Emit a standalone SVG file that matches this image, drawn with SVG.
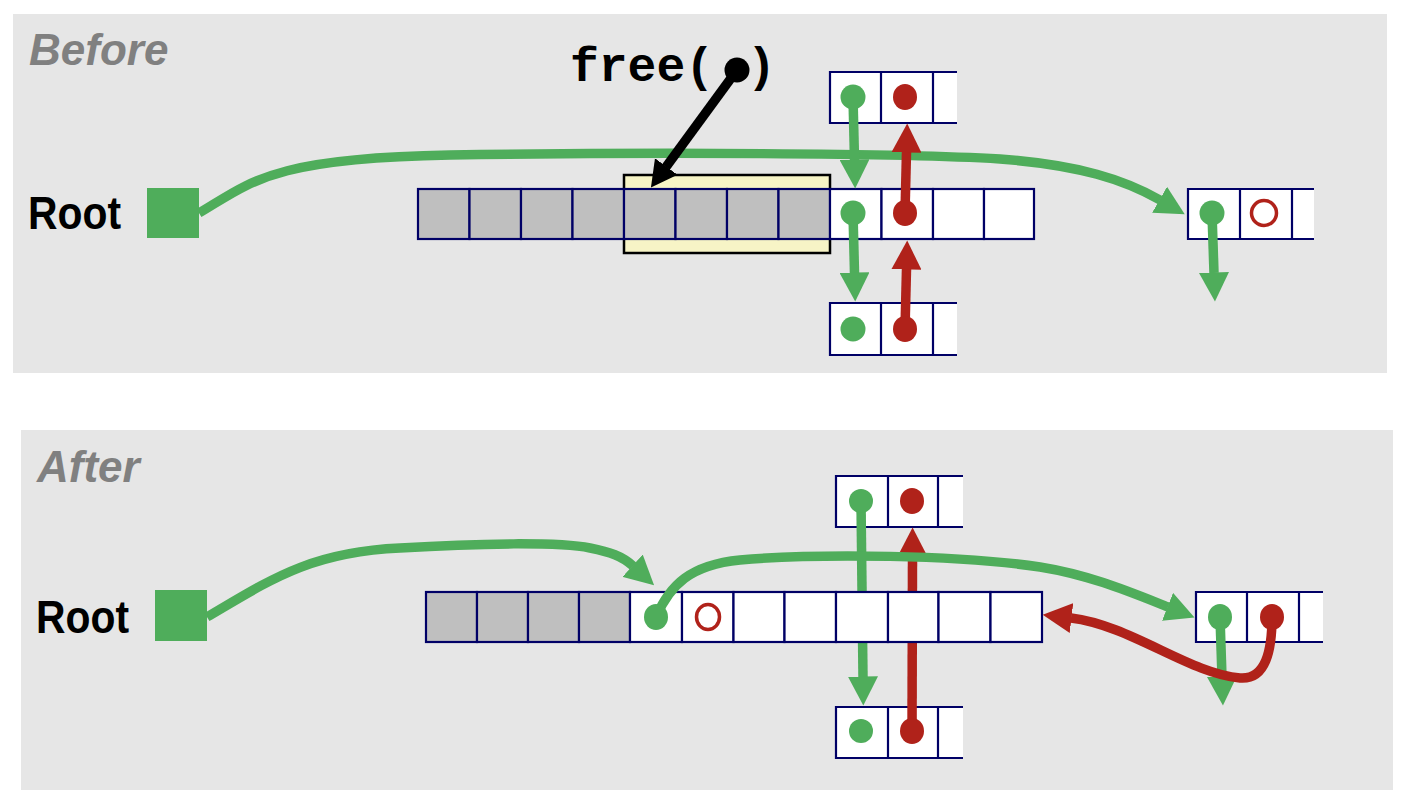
<svg xmlns="http://www.w3.org/2000/svg" width="1406" height="804" viewBox="0 0 1406 804">
<defs>
<style>
.panel{fill:#e6e6e6}
.title{font-family:"Liberation Sans",Arial,sans-serif;font-weight:bold;font-style:italic;font-size:44px;fill:#808080}
.root{font-family:"Liberation Sans",Arial,sans-serif;font-weight:bold;font-size:47px;fill:#000}
.code{font-family:"Liberation Mono","Courier New",monospace;font-weight:bold;font-size:48px;fill:#000}
.rootsq{fill:#4fad5b}
.cell{stroke:#000066;stroke-width:2.2}
.gray{fill:#bfbfbf}
.white{fill:#ffffff}
.yellow{fill:#f7f4c6;stroke:#000;stroke-width:2.5}
.gdot{fill:#4fad5b}
.rdot{fill:#b0221a}
.rring{fill:none;stroke:#b0221a;stroke-width:3.5}
.g{fill:none;stroke:#4fad5b;stroke-width:9.5}
.r{fill:none;stroke:#b0221a;stroke-width:9.5}
.k{fill:none;stroke:#000;stroke-width:9.5}
</style>
<marker id="ag" markerUnits="userSpaceOnUse" markerWidth="30" markerHeight="30" viewBox="0 0 30 30" refX="0.5" refY="15" orient="auto"><path d="M0,0 L29,15 L0,30 z" fill="#4fad5b"/></marker>
<marker id="ar" markerUnits="userSpaceOnUse" markerWidth="30" markerHeight="30" viewBox="0 0 30 30" refX="0.5" refY="15" orient="auto"><path d="M0,0 L29,15 L0,30 z" fill="#b0221a"/></marker>
<marker id="ak" markerUnits="userSpaceOnUse" markerWidth="30" markerHeight="30" viewBox="0 0 30 30" refX="0.5" refY="15" orient="auto"><path d="M0,1 L26,15 L0,29 z" fill="#000"/></marker>
</defs>

<g id="panel-before">
<rect class="panel" x="13" y="14" width="1374" height="359"/>
<text class="title" x="29" y="65">Before</text>
</g>
<g id="panel-after">
<rect class="panel" x="21" y="430" width="1372" height="360"/>
<text class="title" x="37" y="482">After</text>
</g>

<!-- BEFORE -->
<g id="root-before">
<text class="root" x="28" y="229" textLength="93" lengthAdjust="spacingAndGlyphs">Root</text>
<rect class="rootsq" x="147" y="188" width="52" height="50"/>
</g>

<g id="free-call">
<text class="code" x="570" y="81">free(</text>
<text class="code" x="747" y="81">)</text>
</g>

<g id="freed-block-before">
<rect class="yellow" x="624" y="175" width="206" height="78"/>
</g>

<g id="heap-before">
<rect class="cell gray" x="418" y="189" width="51.5" height="50"/>
<rect class="cell gray" x="469.5" y="189" width="51.5" height="50"/>
<rect class="cell gray" x="521" y="189" width="51.5" height="50"/>
<rect class="cell gray" x="572.5" y="189" width="51.5" height="50"/>
<rect class="cell gray" x="624" y="189" width="51.5" height="50"/>
<rect class="cell gray" x="675.5" y="189" width="51.5" height="50"/>
<rect class="cell gray" x="727" y="189" width="51.5" height="50"/>
<rect class="cell gray" x="778.5" y="189" width="51.5" height="50"/>
<rect class="cell white" x="830" y="189" width="51.5" height="50"/>
<rect class="cell white" x="881.5" y="189" width="51.5" height="50"/>
<rect class="cell white" x="933" y="189" width="51" height="50"/>
<rect class="cell white" x="984" y="189" width="50" height="50"/>
</g>

<g id="top-block-before">
<rect class="white" x="830" y="72" width="127" height="51"/>
<path class="cell" fill="none" d="M957,72 H830 V123 H957 M881,72 V123 M933,72 V123"/>
</g>
<g id="bottom-block-before">
<rect class="white" x="830" y="303" width="127" height="52"/>
<path class="cell" fill="none" d="M957,303 H830 V355 H957 M881,303 V355 M933,303 V355"/>
</g>
<g id="right-block-before">
<rect class="white" x="1188" y="189" width="126" height="50"/>
<path class="cell" fill="none" d="M1314,189 H1188 V239 H1314 M1240,189 V239 M1292,189 V239"/>
</g>

<g id="connectors-before">
<path class="g" d="M199,213 C250,183 270,158 450,155 C650,152 900,153 1000,159 C1080,165 1125,180 1160,200" marker-end="url(#ag)"/>
<path class="g" d="M853,97 L854.5,160" marker-end="url(#ag)"/>
<path class="r" d="M905,213 L906.5,152" marker-end="url(#ar)"/>
<path class="g" d="M853,213 L854.5,273" marker-end="url(#ag)"/>
<path class="r" d="M905,329 L906.5,269" marker-end="url(#ar)"/>
<path class="g" d="M1212,213 L1214,273" marker-end="url(#ag)"/>
<path class="k" d="M737,70 L666,167" marker-end="url(#ak)"/>
</g>

<g id="dots-before">
<circle class="gdot" cx="853" cy="97" r="12.5"/>
<ellipse class="rdot" cx="905" cy="97" rx="12" ry="13"/>
<circle class="gdot" cx="853" cy="213" r="12.5"/>
<ellipse class="rdot" cx="905" cy="213" rx="12" ry="13"/>
<circle class="gdot" cx="853" cy="329" r="12.5"/>
<ellipse class="rdot" cx="905" cy="329" rx="12" ry="13"/>
<circle class="gdot" cx="1212" cy="213" r="12.5"/>
<circle class="rring" cx="1264" cy="213" r="12.5"/>
<circle cx="737" cy="70" r="12.5" fill="#000"/>
</g>

<!-- AFTER -->
<g id="root-after">
<text class="root" x="36" y="633" textLength="93" lengthAdjust="spacingAndGlyphs">Root</text>
<rect class="rootsq" x="155" y="590" width="52" height="51"/>
</g>

<g id="top-block-after">
<rect class="white" x="836" y="476" width="127" height="51"/>
<path class="cell" fill="none" d="M963,476 H836 V527 H963 M888,476 V527 M938,476 V527"/>
</g>
<g id="bottom-block-after">
<rect class="white" x="836" y="707" width="127" height="51"/>
<path class="cell" fill="none" d="M963,707 H836 V758 H963 M888,707 V758 M938,707 V758"/>
</g>

<g id="connectors-after-under">
<path class="g" d="M861,501 L863,677" marker-end="url(#ag)"/>
<path class="r" d="M912,731 L912.5,556" marker-end="url(#ar)"/>
</g>

<g id="heap-after">
<rect class="cell gray" x="426" y="592" width="51" height="50"/>
<rect class="cell gray" x="477" y="592" width="51" height="50"/>
<rect class="cell gray" x="528" y="592" width="51" height="50"/>
<rect class="cell gray" x="579" y="592" width="51" height="50"/>
<rect class="cell white" x="630" y="592" width="52" height="50"/>
<rect class="cell white" x="682" y="592" width="51.5" height="50"/>
<rect class="cell white" x="733.5" y="592" width="51" height="50"/>
<rect class="cell white" x="784.5" y="592" width="51.5" height="50"/>
<rect class="cell white" x="836" y="592" width="52" height="50"/>
<rect class="cell white" x="888" y="592" width="50.5" height="50"/>
<rect class="cell white" x="938.5" y="592" width="52" height="50"/>
<rect class="cell white" x="990.5" y="592" width="51.5" height="50"/>
</g>

<g id="right-block-after">
<rect class="white" x="1196" y="592" width="127" height="50"/>
<path class="cell" fill="none" d="M1323,592 H1196 V642 H1323 M1247,592 V642 M1299,592 V642"/>
</g>

<g id="connectors-after">
<path class="g" d="M207,617 C270,580 310,552 400,548 C480,543 560,542 590,548 C610,552 622,556 633,566" marker-end="url(#ag)"/>
<path class="g" d="M656,617 C670,585 690,565 740,560 C820,553 960,555 1040,567 C1090,575 1130,592 1168,607" marker-end="url(#ag)"/>
<path class="g" d="M1220,617 L1222,677" marker-end="url(#ag)"/>
<path class="r" d="M1272,617 C1272,650 1266,680 1240,678 C1190,674 1130,625 1071,618" marker-end="url(#ar)"/>
</g>

<g id="dots-after">
<circle class="gdot" cx="861" cy="501" r="12"/>
<ellipse class="rdot" cx="912" cy="501" rx="12" ry="13"/>
<circle class="gdot" cx="861" cy="731" r="12"/>
<ellipse class="rdot" cx="912" cy="731" rx="12" ry="13"/>
<ellipse class="gdot" cx="656" cy="617" rx="12" ry="13"/>
<ellipse class="rring" cx="708" cy="617" rx="11.5" ry="12.5"/>
<ellipse class="gdot" cx="1220" cy="617" rx="12" ry="13"/>
<ellipse class="rdot" cx="1272" cy="617" rx="12" ry="13"/>
</g>
</svg>
